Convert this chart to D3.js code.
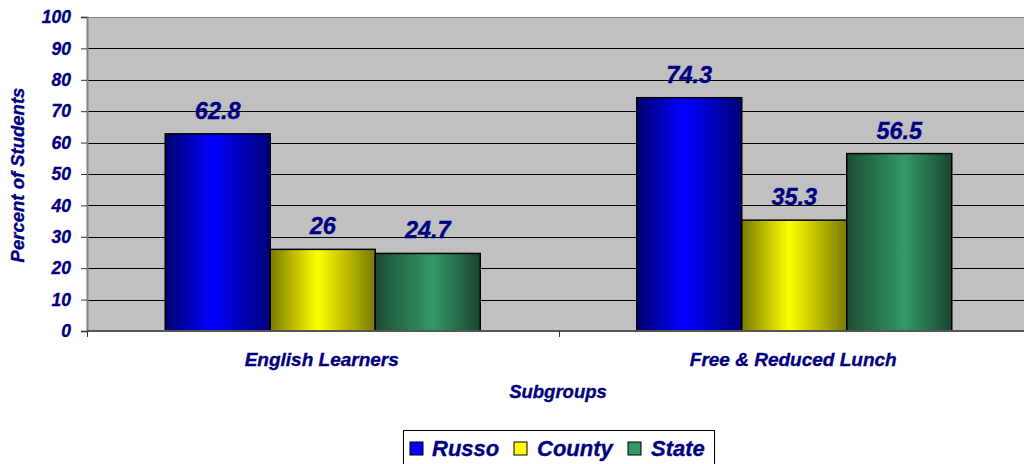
<!DOCTYPE html>
<html>
<head>
<meta charset="utf-8">
<script src="https://cdn.jsdelivr.net/npm/d3@7"></script>
<style>
  body { margin: 0; background: #fff; }
  svg { display: block; }
  text { font-family: "Liberation Sans", Arial, sans-serif; font-weight: bold; font-style: italic; fill: #000080; stroke: #000080; stroke-width: 0.35px; }
</style>
</head>
<body>
<svg id="chart" width="1024" height="464"></svg>
<script>
const categories = ['English Learners', 'Free & Reduced Lunch'];
const series = ['Russo', 'County', 'State'];
const russo = [62.8, 74.3];
const county = [26, 35.3];
const state = [24.7, 56.5];
const yTicks = [0, 10, 20, 30, 40, 50, 60, 70, 80, 90, 100];

const values = { Russo: russo, County: county, State: state };

const svg = d3.select('#chart');
const plotLeft = 87, plotRight = 1030, plotTop = 17, plotBottom = 331;

const x0 = d3.scaleBand().domain(categories).range([plotLeft, plotRight]);
const x1 = d3.scaleBand().domain(series).range([0, x0.bandwidth()]).paddingOuter(0.745);
const y = d3.scaleLinear().domain([0, 100]).range([plotBottom, plotTop]);

// gradients, dark at the edges and bright in the middle
const defs = svg.append('defs');
const grads = {
	Russo: ['#00006e', '#0000ff', '#00007a'],
	County: ['#7a7a00', '#ffff00', '#7a7a00'],
	State: ['#1b4d33', '#339966', '#1a4531'],
};
series.forEach(s => {
	const g = defs.append('linearGradient').attr('id', 'g-' + s)
		.attr('x1', '0%').attr('x2', '100%').attr('y1', '0%').attr('y2', '0%');
	g.append('stop').attr('offset', '0%').attr('stop-color', grads[s][0]);
	g.append('stop').attr('offset', s === 'State' ? '55%' : '45%').attr('stop-color', grads[s][1]);
	g.append('stop').attr('offset', '100%').attr('stop-color', grads[s][2]);
});

// plot background
svg.append('rect')
	.attr('x', plotLeft).attr('y', plotTop)
	.attr('width', plotRight - plotLeft).attr('height', plotBottom - plotTop)
	.attr('fill', '#c0c0c0');

// gridlines
svg.append('g')
	.selectAll('line')
	.data(yTicks.filter(d => d > 0))
	.join('line')
	.attr('x1', plotLeft).attr('x2', plotRight)
	.attr('y1', d => Math.round(y(d)) + 0.5).attr('y2', d => Math.round(y(d)) + 0.5)
	.attr('stroke', d => d === 100 ? '#808080' : '#000')
	.attr('stroke-width', 1);

// y axis
const yAxis = svg.append('g')
	.attr('transform', `translate(${plotLeft},0)`)
	.call(d3.axisLeft(y).tickValues(yTicks).tickSize(6).tickPadding(10));
yAxis.select('.domain').attr('stroke', '#808080').attr('stroke-width', 2);
yAxis.selectAll('.tick line').attr('stroke', '#333');
yAxis.selectAll('.tick text')
	.attr('font-size', 17.5)
	.attr('font-family', null)
	.attr('fill', '#000080');

// bars
const groups = svg.append('g')
	.selectAll('g')
	.data(categories)
	.join('g')
	.attr('transform', d => `translate(${x0(d)},0)`);

groups.selectAll('rect')
	.data((c, i) => series.map(s => ({ s, v: values[s][i] })))
	.join('rect')
	.attr('x', d => x1(d.s))
	.attr('y', d => y(d.v))
	.attr('width', x1.bandwidth())
	.attr('height', d => y(0) - y(d.v))
	.attr('fill', d => `url(#g-${d.s})`)
	.attr('stroke', '#000')
	.attr('stroke-width', 1.5);

groups.selectAll('text')
	.data((c, i) => series.map(s => ({ s, v: values[s][i] })))
	.join('text')
	.attr('x', d => x1(d.s) + x1.bandwidth() / 2)
	.attr('y', d => y(d.v) - 15)
	.attr('text-anchor', 'middle')
	.attr('font-size', 23.5)
	.text(d => d.v);

// x axis
const xAxis = svg.append('g').attr('transform', `translate(0,${plotBottom})`);
xAxis.append('line')
	.attr('x1', plotLeft).attr('x2', plotRight).attr('y1', 0).attr('y2', 0)
	.attr('stroke', '#555').attr('stroke-width', 2);
xAxis.selectAll('line.tick')
	.data(categories)
	.join('line')
	.attr('class', 'tick')
	.attr('x1', d => Math.round(x0(d)) + 0.5).attr('x2', d => Math.round(x0(d)) + 0.5)
	.attr('y1', 0).attr('y2', 6)
	.attr('stroke', '#333');
xAxis.selectAll('text')
	.data(categories)
	.join('text')
	.attr('x', d => x0(d) + x0.bandwidth() / 2 - 1)
	.attr('y', 35)
	.attr('text-anchor', 'middle')
	.attr('font-size', 19)
	.text(d => d);

// axis titles
svg.append('text')
	.attr('transform', 'translate(24,175) rotate(-90)')
	.attr('text-anchor', 'middle')
	.attr('font-size', 18.5)
	.text('Percent of Students');

svg.append('text')
	.attr('x', 558).attr('y', 398)
	.attr('text-anchor', 'middle')
	.attr('font-size', 18.5)
	.text('Subgroups');

// legend
const legend = svg.append('g');
legend.append('rect')
	.attr('x', 403.5).attr('y', 430.5)
	.attr('width', 311).attr('height', 40)
	.attr('fill', '#fff').attr('stroke', '#000');
const legendX = [410, 514, 628];
const item = legend.selectAll('g')
	.data(series)
	.join('g')
	.attr('transform', (d, i) => `translate(${legendX[i]},442)`);
item.append('rect')
	.attr('width', 13).attr('height', 13)
	.attr('fill', d => grads[d][1])
	.attr('stroke', '#000');
item.append('text')
	.attr('x', d => d === 'Russo' ? 22 : 23)
	.attr('y', 14)
	.attr('font-size', 22)
	.text(d => d);
</script>
</body>
</html>
